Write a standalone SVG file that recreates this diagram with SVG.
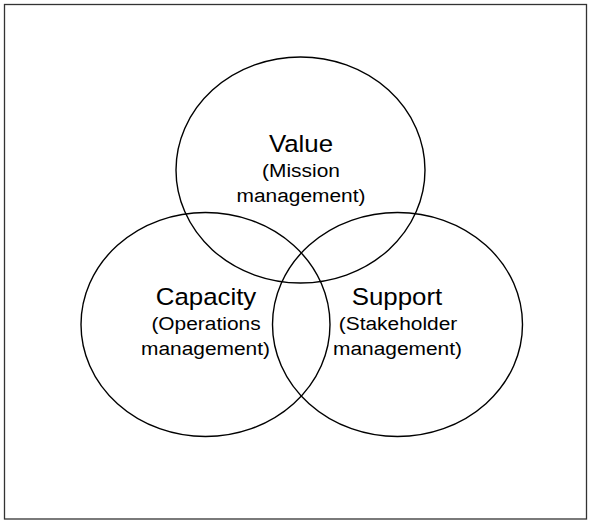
<svg xmlns="http://www.w3.org/2000/svg" width="590" height="525" viewBox="0 0 590 525">
<style>
.frame{fill:#fff;stroke:#333;stroke-width:1.3}
.c{fill:none;stroke:#000;stroke-width:1.4}
.t{font-family:"Liberation Sans",Arial,sans-serif;fill:#000;text-anchor:middle}
.h{font-size:23.5px}
.s{font-size:19px}
</style>
<rect class="frame" x="4.5" y="4.5" width="582" height="514.5"/>
<g id="value">
<ellipse class="c" cx="300.5" cy="170" rx="124.5" ry="113"/>
<text class="t h" transform="translate(301,152) scale(1.1,1)">Value</text>
<text class="t s" transform="translate(301,177) scale(1.1,1)">(Mission</text>
<text class="t s" transform="translate(301,202) scale(1.1,1)">management)</text>
</g>
<g id="capacity">
<ellipse class="c" cx="205.5" cy="324.5" rx="124.5" ry="112"/>
<text class="t h" transform="translate(206,305) scale(1.1,1)">Capacity</text>
<text class="t s" transform="translate(206,330) scale(1.1,1)">(Operations</text>
<text class="t s" transform="translate(205.5,355) scale(1.1,1)">management)</text>
</g>
<g id="support">
<ellipse class="c" cx="397.5" cy="324.5" rx="125" ry="112"/>
<text class="t h" transform="translate(397,305) scale(1.1,1)">Support</text>
<text class="t s" transform="translate(398,330) scale(1.1,1)">(Stakeholder</text>
<text class="t s" transform="translate(397.5,355) scale(1.1,1)">management)</text>
</g>
<g id="connectors"/>
</svg>
